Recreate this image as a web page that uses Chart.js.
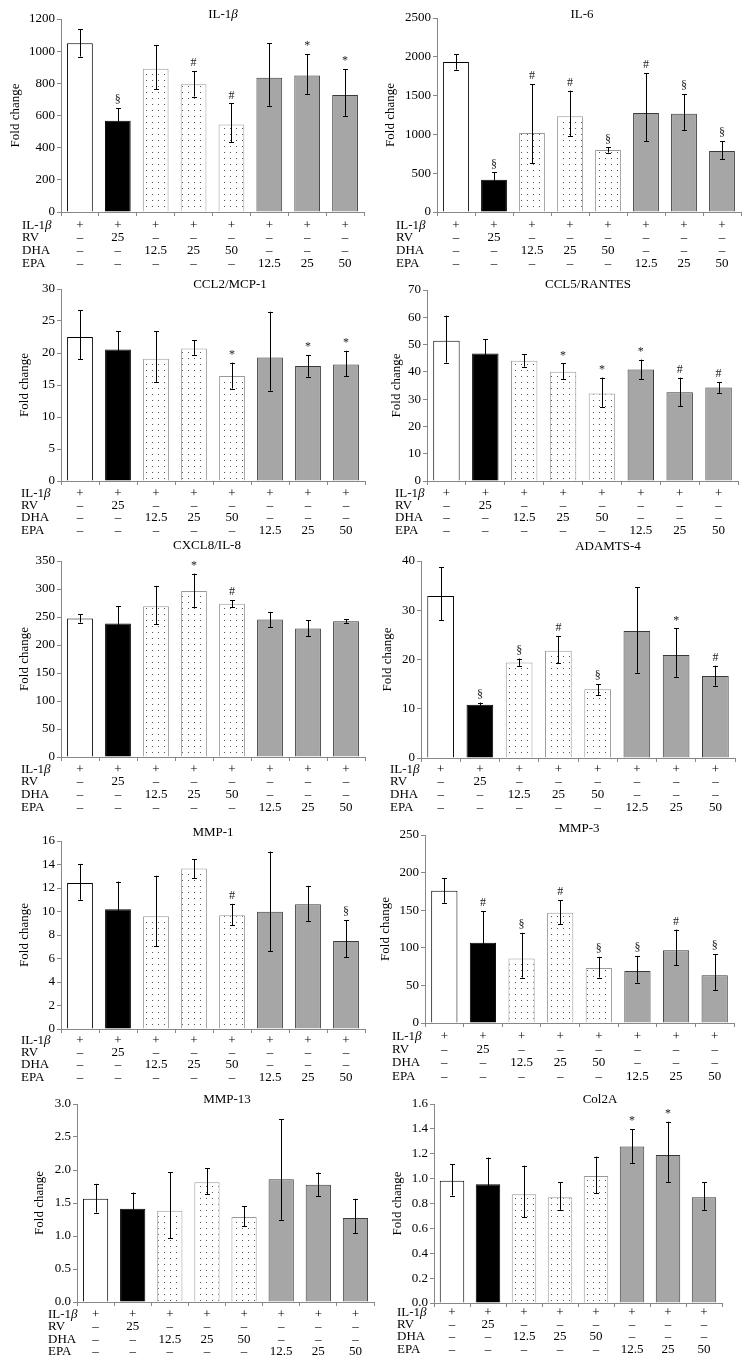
<!DOCTYPE html>
<html>
<head>
<meta charset="utf-8">
<script src="https://cdn.jsdelivr.net/npm/chart.js@4.4.1/dist/chart.umd.min.js"></script>
<style>
  body { margin: 0; background: #fff; width: 750px; height: 1367px; position: relative; overflow: hidden; }
  canvas { position: absolute; }
</style>
</head>
<body>
<script>
// ---- data ----
const groups = ['IL-1β', 'RV 25', 'DHA 12.5', 'DHA 25', 'DHA 50', 'EPA 12.5', 'EPA 25', 'EPA 50'];
const rowNames = ['IL-1β', 'RV', 'DHA', 'EPA'];
const il1bRow = ['+', '+', '+', '+', '+', '+', '+', '+'];
const rvRow = ['–', '25', '–', '–', '–', '–', '–', '–'];
const dhaRow = ['–', '–', '12.5', '25', '50', '–', '–', '–'];
const epaRow = ['–', '–', '–', '–', '–', '12.5', '25', '50'];

const panelTitles = ['IL-1β', 'IL-6', 'CCL2/MCP-1', 'CCL5/RANTES', 'CXCL8/IL-8', 'ADAMTS-4', 'MMP-1', 'MMP-3', 'MMP-13', 'Col2A'];
const yMaxes = [1200, 2500, 30, 70, 350, 40, 16, 250, 3, 1.6];
const ySteps = [200, 500, 5, 10, 50, 10, 2, 50, 0.5, 0.2];
const yDecimals = [0, 0, 0, 0, 0, 0, 0, 0, 1, 1];

const means = [
  [1049, 567, 890, 795, 544, 834, 848, 728],
  [1933, 417, 1018, 1233, 799, 1276, 1267, 786],
  [22.5, 20.55, 19.1, 20.7, 16.4, 19.3, 17.95, 18.2],
  [51.4, 46.75, 44.1, 40.0, 32.1, 40.9, 32.55, 34.3],
  [247.4, 238.5, 269.3, 296.6, 273.5, 245.6, 229.6, 242.6],
  [32.9, 10.8, 19.4, 21.8, 13.96, 25.8, 20.9, 16.66],
  [12.43, 10.2, 9.6, 13.65, 9.69, 9.97, 10.62, 7.48],
  [175.8, 106.6, 85.7, 146.5, 73.3, 69.3, 96.8, 63.5],
  [1.563, 1.412, 1.382, 1.815, 1.286, 1.861, 1.775, 1.271],
  [0.982, 0.955, 0.875, 0.851, 1.022, 1.258, 1.19, 0.851]
];
const upper = [
  [1138, 646, 1039, 877, 675, 1051, 981, 888],
  [2036, 511, 1649, 1564, 833, 1791, 1521, 915],
  [26.7, 23.4, 23.4, 22.0, 18.5, 26.45, 19.7, 20.35],
  [60.6, 51.9, 46.4, 43.1, 37.9, 44.5, 37.9, 36.3],
  [255, 269.3, 305.5, 327.5, 280, 259.2, 244.4, 245.6],
  [38.8, 11.26, 20.2, 24.8, 15.0, 34.7, 26.3, 18.75],
  [14.05, 12.55, 13.05, 14.45, 10.65, 15.1, 12.18, 9.26],
  [192.3, 148.8, 119.9, 163.4, 87.9, 89.3, 124.3, 91.5],
  [1.79, 1.659, 1.967, 2.027, 1.447, 2.768, 1.962, 1.563],
  [1.116, 1.169, 1.105, 0.969, 1.177, 1.397, 1.458, 0.969]
];
const lower = [
  [966, 488, 763, 718, 434, 660, 734, 598],
  [1834, 323, 631, 975, 765, 911, 1052, 683],
  [19.0, 17.7, 15.5, 19.7, 14.45, 14.1, 16.3, 16.4],
  [43.4, 41.6, 41.9, 37.2, 27.2, 37.2, 27.5, 32.3],
  [240, 208, 236.7, 268.1, 267, 231.4, 216, 239.7],
  [28.0, 10.3, 18.7, 19.2, 12.8, 17.3, 16.5, 14.7],
  [11.0, 7.9, 7.05, 12.86, 8.84, 6.63, 9.2, 6.09],
  [159.9, 64, 60.4, 131, 60.4, 53.7, 76.8, 43.5],
  [1.356, 1.17, 0.968, 1.634, 1.145, 1.246, 1.599, 1.044],
  [0.864, 0.74, 0.69, 0.749, 0.883, 1.124, 0.969, 0.749]
];
const marks = [
  ['', '§', '', '#', '#', '', '*', '*'],
  ['', '§', '#', '#', '§', '#', '§', '§'],
  ['', '', '', '', '*', '', '*', '*'],
  ['', '', '', '*', '*', '*', '#', '#'],
  ['', '', '', '*', '#', '', '', ''],
  ['', '§', '§', '#', '§', '', '*', '#'],
  ['', '', '', '', '#', '', '', '§'],
  ['', '#', '§', '#', '§', '§', '#', '§'],
  ['', '', '', '', '', '', '', ''],
  ['', '', '', '', '', '*', '*', '']
];

// ---- page layout (px) ----
// box: canvas rect, area: plot rect [left, top, right, bottom]
const layouts = [
  { box: [0, 0, 375, 272], area: [61, 19, 364, 212], titleX: 223, titleY: 15, rows: [226, 238, 251, 264], labelX: 22, yTitleX: 16 },
  { box: [375, 0, 375, 272], area: [437, 18, 741, 212], titleX: 582, titleY: 15, rows: [226, 238, 251, 264], labelX: 396, yTitleX: 391 },
  { box: [0, 272, 375, 268], area: [61, 289, 365, 481], titleX: 230, titleY: 285, rows: [494, 506, 518, 531], labelX: 21, yTitleX: 25 },
  { box: [375, 272, 375, 268], area: [427, 290, 738, 481], titleX: 588, titleY: 285, rows: [494, 506, 518, 531], labelX: 395, yTitleX: 397 },
  { box: [0, 540, 375, 278], area: [61, 561, 365, 757], titleX: 207, titleY: 546, rows: [770, 782, 795, 808], labelX: 21, yTitleX: 25 },
  { box: [375, 540, 375, 278], area: [421, 561, 735, 758], titleX: 608, titleY: 547, rows: [770, 782, 795, 808], labelX: 390, yTitleX: 388 },
  { box: [0, 818, 375, 270], area: [61, 841, 365, 1029], titleX: 213, titleY: 833, rows: [1041, 1053, 1065, 1078], labelX: 21, yTitleX: 25 },
  { box: [375, 818, 375, 270], area: [425, 835, 734, 1023], titleX: 579, titleY: 829, rows: [1037, 1050, 1063, 1077], labelX: 392, yTitleX: 386 },
  { box: [0, 1088, 375, 279], area: [77, 1104, 374, 1302], titleX: 227, titleY: 1100, rows: [1315, 1327, 1340, 1352], labelX: 48, yTitleX: 40 },
  { box: [375, 1088, 375, 279], area: [434, 1104, 722, 1303], titleX: 600, titleY: 1100, rows: [1313, 1325, 1337, 1350], labelX: 397, yTitleX: 398 }
];

const FONT = '"Liberation Serif", "Times New Roman", serif';
const tableRows = [il1bRow, rvRow, dhaRow, epaRow];

// dotted fill for the DHA bars
function makeDots() {
  const c = document.createElement('canvas');
  c.width = 6; c.height = 6;
  const g = c.getContext('2d');
  g.fillStyle = '#fff';
  g.fillRect(0, 0, 6, 6);
  g.fillStyle = '#555';
  g.fillRect(2, 2, 1, 1);
  return g.createPattern(c, 'repeat');
}
const dots = makeDots();
const fills = ['#ffffff', '#000000', dots, dots, dots, '#a6a6a6', '#a6a6a6', '#a6a6a6'];
const borders = ['#000000', '#000000', '#9a9a9a', '#9a9a9a', '#9a9a9a', '#3a3a3a', '#3a3a3a', '#3a3a3a'];

// draws text where β is italic
function mixedText(ctx, text, x, y, size, align) {
  const parts = text.split('β');
  const up = size + 'px ' + FONT;
  const it = 'italic ' + size + 'px ' + FONT;
  let w = 0;
  parts.forEach((p, k) => {
    ctx.font = up; w += ctx.measureText(p).width;
    if (k < parts.length - 1) { ctx.font = it; w += ctx.measureText('β').width; }
  });
  let cx = align === 'center' ? x - w / 2 : x;
  ctx.textAlign = 'left';
  parts.forEach((p, k) => {
    ctx.font = up; ctx.fillText(p, cx, y); cx += ctx.measureText(p).width;
    if (k < parts.length - 1) { ctx.font = it; ctx.fillText('β', cx, y); cx += ctx.measureText('β').width; }
  });
}

const decor = {
  id: 'decor',
  afterDatasetsDraw(chart) {
    const i = chart.options.plugins.decor.index;
    const ctx = chart.ctx;
    const y = chart.scales.y;
    const bars = chart.getDatasetMeta(0).data;
    ctx.save();
    ctx.strokeStyle = '#000';
    ctx.lineWidth = 1;
    bars.forEach((bar, j) => {
      const x = Math.round(bar.x) + 0.5;
      const yh = y.getPixelForValue(upper[i][j]);
      const yl = y.getPixelForValue(lower[i][j]);
      ctx.beginPath();
      ctx.moveTo(x, yh); ctx.lineTo(x, yl);
      ctx.moveTo(x - 2.5, Math.round(yh) + 0.5); ctx.lineTo(x + 2.5, Math.round(yh) + 0.5);
      ctx.moveTo(x - 2.5, Math.round(yl) + 0.5); ctx.lineTo(x + 2.5, Math.round(yl) + 0.5);
      ctx.stroke();
      if (marks[i][j]) {
        ctx.fillStyle = '#222';
        ctx.font = '12px ' + FONT;
        ctx.textAlign = 'center';
        ctx.textBaseline = 'bottom';
        ctx.fillText(marks[i][j], bar.x, yh - 2);
      }
    });
    ctx.restore();
  },
  afterDraw(chart) {
    const i = chart.options.plugins.decor.index;
    const L = layouts[i];
    const bx = L.box[0], by = L.box[1];
    const ctx = chart.ctx;
    const xs = chart.scales.x;
    ctx.save();
    ctx.fillStyle = '#000';
    ctx.textBaseline = 'middle';
    mixedText(ctx, panelTitles[i], L.titleX - bx, L.titleY - by, 13, 'center');
    // y title
    ctx.save();
    ctx.translate(L.yTitleX - bx, (L.area[1] + L.area[3]) / 2 - by);
    ctx.rotate(-Math.PI / 2);
    ctx.font = '13px ' + FONT;
    ctx.textAlign = 'center';
    ctx.fillText('Fold change', 0, 0);
    ctx.restore();
    // treatment table
    tableRows.forEach((row, r) => {
      const ty = L.rows[r] - by;
      mixedText(ctx, rowNames[r], L.labelX - bx, ty, 13, 'left');
      ctx.font = '13px ' + FONT;
      ctx.textAlign = 'center';
      row.forEach((v, j) => ctx.fillText(v, xs.getPixelForValue(j), ty));
    });
    ctx.restore();
  }
};

layouts.forEach((L, i) => {
  const [bx, by, bw, bh] = L.box;
  const [left, top, right, bottom] = L.area;
  const cv = document.createElement('canvas');
  cv.width = bw; cv.height = bh;
  cv.style.left = bx + 'px'; cv.style.top = by + 'px';
  cv.style.width = bw + 'px'; cv.style.height = bh + 'px';
  document.body.appendChild(cv);
  new Chart(cv, {
    type: 'bar',
    data: {
      labels: groups,
      datasets: [{
        data: means[i],
        backgroundColor: fills,
        borderColor: borders,
        borderWidth: 1,
        categoryPercentage: 1,
        barPercentage: 0.68
      }]
    },
    options: {
      responsive: false,
      animation: false,
      events: [],
      layout: { padding: { left: 0, top: top - by, right: bx + bw - right, bottom: 0 } },
      plugins: { legend: { display: false }, tooltip: { enabled: false }, decor: { index: i } },
      scales: {
        x: {
          grid: { offset: true, drawOnChartArea: false, tickLength: 4, color: '#888' },
          border: { color: '#888' },
          ticks: { display: false },
          afterFit: s => { s.height = by + bh - bottom; }
        },
        y: {
          min: 0,
          max: yMaxes[i],
          grid: { drawOnChartArea: false, tickLength: 4, color: '#888' },
          border: { color: '#888' },
          ticks: {
            stepSize: ySteps[i],
            color: '#000',
            padding: 2,
            font: { family: FONT, size: 13 },
            callback: v => Number(v).toFixed(yDecimals[i])
          },
          afterFit: s => { s.width = left - bx; }
        }
      }
    },
    plugins: [decor]
  });
});
</script>
</body>
</html>
